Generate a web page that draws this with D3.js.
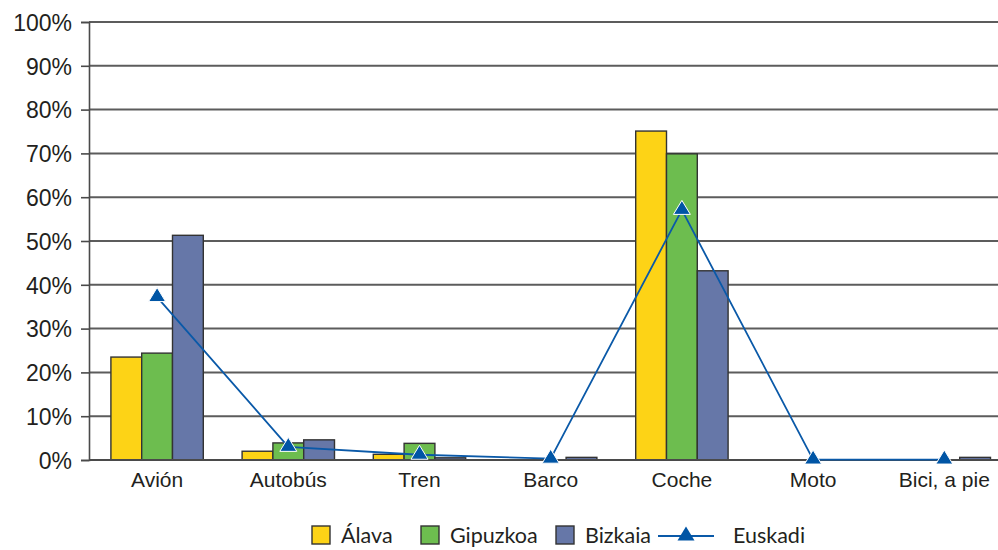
<!DOCTYPE html>
<html>
<head>
<meta charset="utf-8">
<script src="https://cdn.jsdelivr.net/npm/d3@7"></script>
<style>
  html, body { margin: 0; padding: 0; background: #fff; }
  svg { display: block; font-family: Lato, "Open Sans", sans-serif; }
</style>
</head>
<body>
<svg id="chart" width="998" height="550"></svg>
<script>
// Modo de transporte por territorio (%)
const categories = ["Avión", "Autobús", "Tren", "Barco", "Coche", "Moto", "Bici, a pie"];
const seriesNames = ["Álava", "Gipuzkoa", "Bizkaia"];
const alava    = [0.235, 0.020, 0.013, 0.000, 0.751, 0.000, 0.000];
const gipuzkoa = [0.244, 0.039, 0.038, 0.000, 0.699, 0.000, 0.000];
const bizkaia  = [0.513, 0.046, 0.005, 0.006, 0.432, 0.000, 0.006];
const euskadi  = [0.372, 0.030, 0.012, 0.003, 0.571, 0.001, 0.001];
const lineName = "Euskadi";
const yTicks = [0, 0.1, 0.2, 0.3, 0.4, 0.5, 0.6, 0.7, 0.8, 0.9, 1.0];

const colors = { "Álava": "#fdd316", "Gipuzkoa": "#6dbd4f", "Bizkaia": "#6677a8" };
const lineColor = "#0a59a8";
const textColor = "#231f20";

const svg = d3.select("#chart");
const axisX = 89, plotTop = 22, plotBottom = 460, plotRight = 998;

const y = d3.scaleLinear().domain([0, 1]).range([plotBottom, plotTop]);
const x = d3.scaleBand().domain(categories).range([91.5, 1009.9]).padding(0);
const xs = d3.scaleBand().domain(seriesNames).range([0, x.bandwidth()])
  .paddingInner(0).paddingOuter(0.63);

const seriesValues = { "Álava": alava, "Gipuzkoa": gipuzkoa, "Bizkaia": bizkaia };

// horizontal gridlines
svg.append("g")
  .selectAll("line")
  .data(yTicks.filter(d => d > 0))
  .join("line")
  .attr("x1", axisX).attr("x2", plotRight)
  .attr("y1", d => y(d)).attr("y2", d => y(d))
  .attr("stroke", "#5c5c5c").attr("stroke-width", 2);

// y axis
const yAxis = d3.axisLeft(y).tickValues(yTicks).tickFormat(d3.format(".0%"))
  .tickSize(8).tickPadding(9);
const gy = svg.append("g").attr("transform", `translate(${axisX},0)`).call(yAxis);
gy.select(".domain").attr("stroke", "#4a4a4a").attr("stroke-width", 1.6);
gy.selectAll(".tick line").attr("stroke", "#4a4a4a").attr("stroke-width", 1.6);
gy.selectAll(".tick text")
  .attr("fill", textColor).style("font-size", "23px")
  .attr("dy", "0.36em");

// bars
const rows = [];
categories.forEach((c, i) => {
  seriesNames.forEach(s => rows.push({ cat: c, series: s, value: seriesValues[s][i] }));
});
svg.append("g")
  .selectAll("rect")
  .data(rows.filter(d => d.value > 0))
  .join("rect")
  .attr("x", d => x(d.cat) + xs(d.series))
  .attr("y", d => y(d.value))
  .attr("width", xs.bandwidth())
  .attr("height", d => y(0) - y(d.value))
  .attr("fill", d => colors[d.series])
  .attr("stroke", "#333")
  .attr("stroke-width", 1.4);

// baseline
svg.append("line")
  .attr("x1", axisX).attr("x2", plotRight)
  .attr("y1", y(0)).attr("y2", y(0))
  .attr("stroke", "#4a4a4a").attr("stroke-width", 2);

// category labels
const xAxis = d3.axisBottom(x).tickSize(0).tickPadding(12);
const gx = svg.append("g").attr("transform", `translate(0,${plotBottom})`).call(xAxis);
gx.select(".domain").remove();
gx.selectAll(".tick text").attr("fill", textColor).style("font-size", "21px");

// Euskadi line with triangle markers
const triangle = "M0,-9.5L8.5,4.5L-8.5,4.5Z";
const pts = categories.map((c, i) => [x(c) + x.bandwidth() / 2, y(euskadi[i])]);
svg.append("path")
  .attr("d", d3.line()(pts))
  .attr("fill", "none").attr("stroke", lineColor).attr("stroke-width", 1.8);
svg.append("g")
  .selectAll("path")
  .data(pts)
  .join("path")
  .attr("transform", d => `translate(${d[0]},${d[1]})`)
  .attr("d", triangle)
  .attr("fill", "#0055a5").attr("stroke", "#fff").attr("stroke-width", 1);

// legend
const legend = svg.append("g").attr("transform", "translate(0,535)");
const legendItems = [
  { name: "Álava", x: 312 },
  { name: "Gipuzkoa", x: 421 },
  { name: "Bizkaia", x: 556 }
];
legendItems.forEach(it => {
  legend.append("rect")
    .attr("x", it.x).attr("y", -9).attr("width", 18).attr("height", 18)
    .attr("fill", colors[it.name]).attr("stroke", "#333").attr("stroke-width", 1.4);
  legend.append("text")
    .attr("x", it.x + 29).attr("y", 0).attr("dy", "0.35em")
    .attr("fill", textColor).style("font-size", "21.5px")
    .text(it.name);
});
legend.append("line")
  .attr("x1", 658).attr("x2", 714).attr("y1", 1).attr("y2", 1)
  .attr("stroke", lineColor).attr("stroke-width", 1.8);
legend.append("path")
  .attr("transform", "translate(686,1)")
  .attr("d", triangle)
  .attr("fill", "#0055a5");
legend.append("text")
  .attr("x", 733).attr("y", 0).attr("dy", "0.35em")
  .attr("fill", textColor).style("font-size", "21.5px")
  .text(lineName);
</script>
</body>
</html>
